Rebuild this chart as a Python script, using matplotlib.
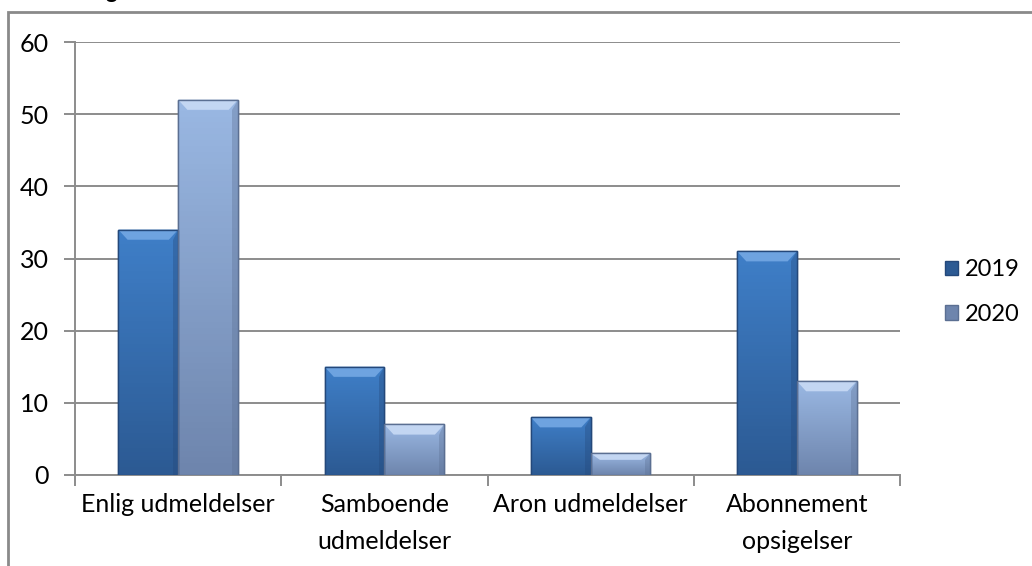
import numpy as np
import matplotlib
matplotlib.use("Agg")
import matplotlib.pyplot as plt
from matplotlib.colors import LinearSegmentedColormap
from matplotlib.patches import Rectangle, Polygon

plt.rcParams['font.family'] = ['Lato', 'DejaVu Sans']

# data
categories = ['Enlig udmeldelser', 'Samboende\nudmeldelser', 'Aron udmeldelser', 'Abonnement\nopsigelser']
series = ['2019', '2020']
v2019 = [34, 15, 8, 31]
v2020 = [52, 7, 3, 13]

# colours: (top, bottom, bevel, edge)
styles = {
    '2019': ('#3f7fc8', '#2c5a93', '#6ea3e0', '#24487a'),
    '2020': ('#9ab8e3', '#6e85ad', '#c3d6f2', '#5b6f92'),
}

fig = plt.figure(figsize=(10.32, 5.66), dpi=100)
ax = fig.add_axes([75 / 1032, 1 - 475 / 566, 825 / 1032, 433 / 566])

x = np.arange(len(categories))
w = 0.29
grad = np.linspace(1, 0, 64).reshape(-1, 1)

for k, (name, vals) in enumerate(zip(series, [v2019, v2020])):
    top, bot, bev, edge = styles[name]
    cmap = LinearSegmentedColormap.from_list(name, [bot, top])
    bars = ax.bar(x + (k - 0.5) * w, vals, w, color=top, edgecolor=edge,
                  linewidth=1, zorder=3, label=name)
    for b in bars:
        x0 = b.get_x()
        x1, h = x0 + b.get_width(), b.get_height()
        im = ax.imshow(grad, cmap=cmap, extent=(x0, x1, 0, h), aspect='auto',
                       zorder=3.5, vmin=0, vmax=1)
        im.set_clip_path(b)
        dx, dy = 0.045, min(1.4, h * 0.3)
        # bevelled top face and darker right side
        ax.add_patch(Polygon([(x0, h), (x1, h), (x1 - dx, h - dy), (x0 + dx, h - dy)],
                             closed=True, facecolor=bev, edgecolor='none', zorder=4))
        ax.add_patch(Polygon([(x1, h), (x1, 0), (x1 - dx * 0.6, 0), (x1 - dx * 0.6, h - dy)],
                             closed=True, facecolor=edge, alpha=0.35, edgecolor='none', zorder=4))
        ax.add_patch(Rectangle((x0, 0), x1 - x0, h, facecolor='none', edgecolor=edge,
                               linewidth=1, zorder=5))

ax.set_xlim(-0.5, len(categories) - 0.5)
ax.set_ylim(0, 60)
ax.set_yticks(range(0, 61, 10))
ax.yaxis.grid(True, color='#8c8c8c', linewidth=1.4)
ax.set_axisbelow(True)

ax.set_xticks(np.arange(-0.5, len(categories), 1.0))
ax.set_xticklabels([])
ax.set_xticks(x, minor=True)
ax.set_xticklabels(categories, minor=True, fontsize=18, linespacing=1.75)
ax.tick_params(axis='x', which='minor', length=0, pad=13)
ax.tick_params(axis='x', which='major', length=8, width=1.4, color='#8c8c8c')
ax.tick_params(axis='y', length=8, width=1.4, color='#8c8c8c', labelsize=18, pad=11)

for s in ['top', 'right']:
    ax.spines[s].set_visible(False)
for s in ['left', 'bottom']:
    ax.spines[s].set_color('#8c8c8c')
    ax.spines[s].set_linewidth(1.4)

leg = ax.legend(loc='center left', bbox_to_anchor=((945 - 75) / 825, (475 - 292) / 433),
                frameon=False, fontsize=17, handlelength=0.55, handleheight=0.55,
                handletextpad=0.3, labelspacing=1.0, borderpad=0, borderaxespad=0)
for hnd, name in zip(leg.legend_handles, series):
    hnd.set_facecolor(styles[name][1])
    hnd.set_edgecolor(styles[name][3])

# outer frame of the chart area
fig.add_artist(Rectangle((8 / 1032, -0.1), 1.2, 1.1 - 12 / 566, transform=fig.transFigure,
                         facecolor='none', edgecolor='#8a8a8a', linewidth=2))
# cropped title, only descender visible
fig.text(106 / 1032, 1 + 2 / 566, 'g', fontsize=16, fontweight='bold', va='baseline')

fig.savefig('out.png', dpi=100)
